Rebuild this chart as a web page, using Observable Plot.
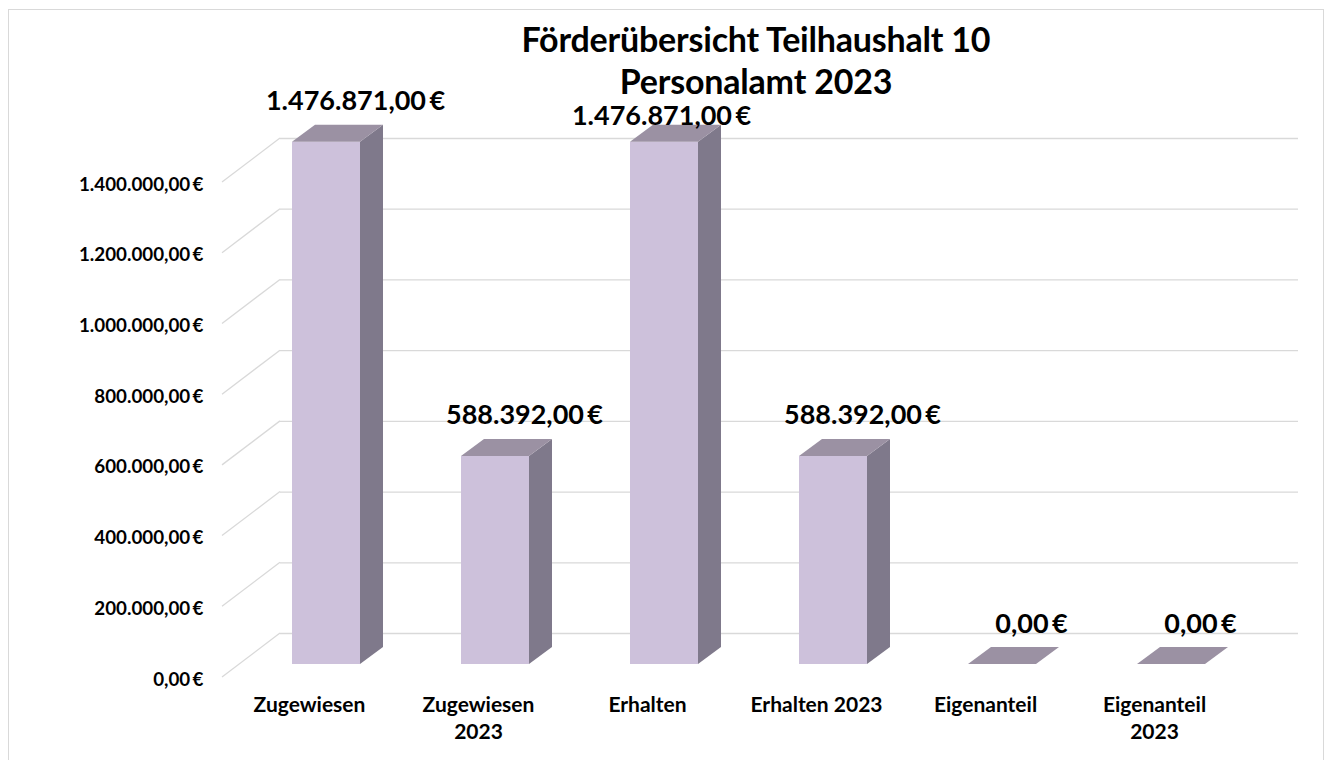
<!DOCTYPE html>
<html>
<head>
<meta charset="utf-8">
<script src="https://cdn.jsdelivr.net/npm/d3@7"></script>
<script src="https://cdn.jsdelivr.net/npm/@observablehq/plot@0.6"></script>
<style>
  body { margin: 0; background: #fff; }
  #wrap { position: relative; width: 1330px; height: 760px; overflow: hidden; font-family: Lato, "Open Sans", sans-serif; }
  #frame { position: absolute; left: 8px; top: 9px; width: 1316px; height: 800px; border: 1px solid #d9d9d9; box-sizing: border-box; }
  .title { position: absolute; left: 406px; width: 700px; text-align: center; font-weight: 700; font-size: 34px; line-height: 34px; letter-spacing: -0.2px; color: #000; white-space: nowrap; }
  #t1 { top: 22px; }
  #t2 { top: 64px; }
  #chart { position: absolute; left: 0; top: 0; }
</style>
</head>
<body>
<div id="wrap">
  <div id="frame"></div>
  <div id="chart"></div>
  <div class="title" id="t1">Förderübersicht Teilhaushalt 10</div>
  <div class="title" id="t2">Personalamt 2023</div>
</div>
<script>
// ---- data ----
const categories = ["Zugewiesen", "Zugewiesen\n2023", "Erhalten", "Erhalten 2023", "Eigenanteil", "Eigenanteil\n2023"];
const values = [1476871, 588392, 1476871, 588392, 0, 0];
const yTicks = [0, 200000, 400000, 600000, 800000, 1000000, 1200000, 1400000];

// ---- formatting ----
const locale = d3.formatLocale({decimal: ",", thousands: ".", grouping: [3], currency: ["", "\u2009€"]});
const fmt = locale.format("$,.2f");

const data = categories.map((c, i) => ({category: c, value: values[i], i}));

// ---- 3D look constants (pixels) ----
const FLOOR_DX = 58, FLOOR_DY = -44;   // depth of the back wall
const BAR_DX0 = 17, BAR_DY0 = -13;     // bar front plane offset
const BAR_DX = 23, BAR_DY = -17;       // bar depth
const FRONT = "#cdc1db", SIDE = "#7f798b", TOP = "#9b91a3", GRID = "#d9d9d9";

const diagonals = (index, scales, values, dims) => {
  const y = scales.y;
  const g = d3.create("svg:g").attr("stroke", GRID).attr("stroke-width", 1.3).attr("fill", "none");
  for (const t of yTicks) {
    const y0 = y(t);
    g.append("path").attr("d", `M${dims.marginLeft},${y0}L${dims.marginLeft + FLOOR_DX},${y0 + FLOOR_DY}`);
  }
  return g.node();
};

const faces = (index, scales) => {
  const x = scales.x, y = scales.y, bw = x.bandwidth();
  const g = d3.create("svg:g");
  for (const d of data) {
    const xl = x(d.category) + BAR_DX0, xr = xl + bw;
    const yt = y(d.value) + BAR_DY0, yb = y(0) + BAR_DY0;
    if (d.value > 0) {
      g.append("path").attr("fill", SIDE)
        .attr("d", `M${xr},${yt}L${xr + BAR_DX},${yt + BAR_DY}L${xr + BAR_DX},${yb + BAR_DY}L${xr},${yb}Z`);
    }
    g.append("path").attr("fill", TOP)
      .attr("d", `M${xl},${yt}L${xr},${yt}L${xr + BAR_DX},${yt + BAR_DY}L${xl + BAR_DX},${yt + BAR_DY}Z`);
  }
  return g.node();
};

const chart = Plot.plot({
  width: 1330,
  height: 760,
  marginLeft: 222,
  marginRight: 90,
  marginTop: 182,
  marginBottom: 83,
  style: {background: "none", fontFamily: "Lato, 'Open Sans', sans-serif", overflow: "visible"},
  x: {type: "band", domain: categories, paddingInner: 0.6, paddingOuter: 0.3, axis: null},
  y: {domain: [0, 1400000], axis: null},
  marks: [
    Plot.ruleY(yTicks, {dx: FLOOR_DX, dy: FLOOR_DY, stroke: GRID, strokeWidth: 1.3}),
    diagonals,
    Plot.text(yTicks, {y: d => d, text: d => fmt(d), frameAnchor: "left", textAnchor: "end", dx: -19, dy: 2, fontSize: 18.8, fontWeight: 700, fill: "#000"}),
    Plot.barY(data, {x: "category", y: "value", dx: BAR_DX0, dy: BAR_DY0, fill: FRONT}),
    faces,
    Plot.text(data, {x: "category", y: () => 0, text: "category", lineAnchor: "top", dy: 15.5, fontSize: 21, fontWeight: 700, lineHeight: 1.29, fill: "#000"}),
    Plot.text(data.filter(d => d.i !== 2), {x: "category", y: "value", text: d => fmt(d.value), dx: 46, dy: -45, lineAnchor: "bottom", fontSize: 27, fontWeight: 700, fill: "#000"}),
    Plot.text(data.filter(d => d.i === 2), {x: "category", y: "value", text: d => fmt(d.value), dx: 14, dy: -30, lineAnchor: "bottom", fontSize: 27, fontWeight: 700, fill: "#000"})
  ]
});
document.getElementById("chart").appendChild(chart);
</script>
</body>
</html>
